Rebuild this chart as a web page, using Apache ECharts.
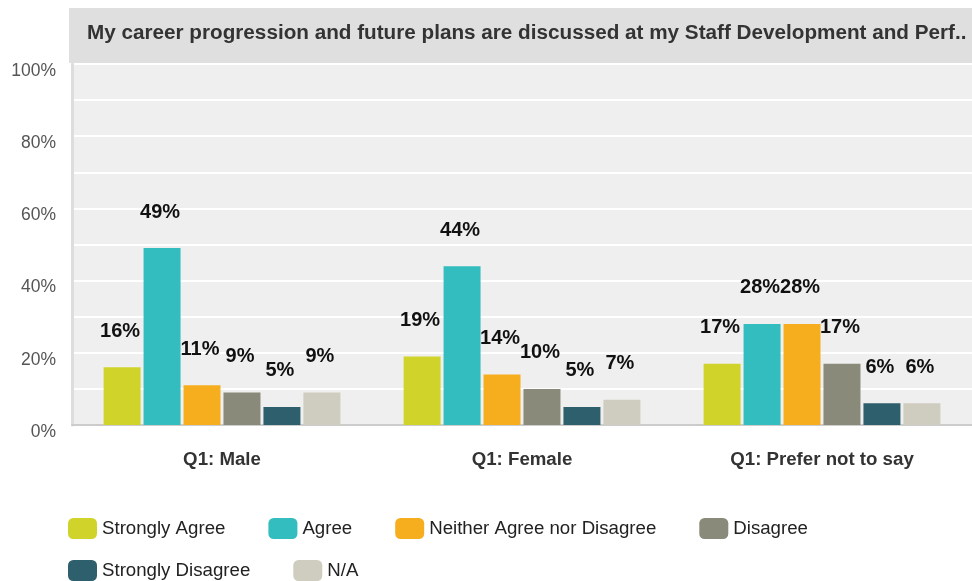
<!DOCTYPE html>
<html>
<head>
<meta charset="utf-8">
<title>Staff Development survey – Q1 by gender</title>
<script src="https://cdn.jsdelivr.net/npm/echarts@6/dist/echarts.min.js"></script>
<style>
  html, body { margin: 0; padding: 0; background: #ffffff; }
  #chart { width: 972px; height: 581px; }
</style>
</head>
<body>
<div id="chart"></div>
<script>
// Question heading shown in the grey band above the plot
const questionTitle = 'My career progression and future plans are discussed at my Staff Development and Perf..';

// Respondent groups along the x axis
const categories = ['Q1: Male', 'Q1: Female', 'Q1: Prefer not to say'];

// Percentage of respondents per answer, one value per group
const stronglyAgree = [16, 19, 17];
const agree = [49, 44, 28];
const neitherAgreeNorDisagree = [11, 14, 28];
const disagree = [9, 10, 17];
const stronglyDisagree = [5, 5, 6];
const notApplicable = [9, 7, 6];

// Answer names in legend order
const answerNames = ['Strongly Agree', 'Agree', 'Neither Agree nor Disagree', 'Disagree', 'Strongly Disagree', 'N/A'];
const answerValues = [stronglyAgree, agree, neitherAgreeNorDisagree, disagree, stronglyDisagree, notApplicable];
const answerColors = ['#d0d42a', '#33bdbf', '#f6ae1f', '#8a8a7a', '#2e5f6d', '#cfcdbf'];

// Value-axis ticks (labels every 20%, gridlines every 10%)
const yMin = 0;
const yMax = 100;
const yStep = 10;

const FONT = '"Liberation Sans", Arial, sans-serif';

const chart = echarts.init(document.getElementById('chart'), null, { renderer: 'canvas' });

const series = answerNames.map((name, i) => ({
  name: name,
  type: 'bar',
  data: answerValues[i],
  barWidth: 37,
  barGap: '8%',
  itemStyle: { color: answerColors[i] },
  label: {
    show: true,
    position: 'top',
    distance: 26,
    offset: [-2, 0],
    formatter: p => p.value + '%',
    fontFamily: FONT,
    fontSize: 20,
    fontWeight: 'bold',
    color: '#111111'
  }
}));

const legendCommon = {
  left: 68,
  padding: 0,
  itemGap: 43,
  itemWidth: 29,
  itemHeight: 21,
  icon: 'roundRect',
  textStyle: { fontFamily: FONT, fontSize: 18.67, color: '#222222' }
};

const option = {
  animation: false,
  backgroundColor: '#ffffff',
  graphic: [
    {
      type: 'rect',
      left: 69,
      top: 8,
      shape: { width: 903, height: 55 },
      style: { fill: '#dfdfdf' },
      z: 0
    },
    {
      type: 'text',
      left: 87,
      top: 23,
      style: {
        text: questionTitle,
        font: 'bold 20.7px ' + FONT,
        fill: '#333333'
      },
      z: 10
    }
  ],
  grid: {
    left: 72,
    right: 0,
    top: 64,
    bottom: 156,
    show: true,
    backgroundColor: '#efefef',
    borderWidth: 0
  },
  legend: [
    Object.assign({ data: answerNames.slice(0, 4), top: 518 }, legendCommon),
    Object.assign({ data: answerNames.slice(4), top: 560 }, legendCommon)
  ],
  xAxis: {
    type: 'category',
    data: categories,
    axisTick: { show: false },
    axisLine: { show: true, lineStyle: { color: '#cccccc', width: 2 } },
    axisLabel: {
      margin: 25,
      fontFamily: FONT,
      fontSize: 18.67,
      fontWeight: 'bold',
      color: '#333333'
    }
  },
  yAxis: {
    type: 'value',
    min: yMin,
    max: yMax,
    interval: yStep,
    axisLine: { show: true, lineStyle: { color: '#dddddd', width: 3 } },
    axisTick: { show: false },
    splitLine: { show: true, lineStyle: { color: '#ffffff', width: 2 } },
    axisLabel: {
      margin: 16,
      verticalAlign: 'top',
      lineHeight: 14,
      fontFamily: FONT,
      fontSize: 17.5,
      color: '#555555',
      formatter: v => (v % 20 === 0 ? v + '%' : '')
    }
  },
  series: series
};

chart.setOption(option);
</script>
</body>
</html>
